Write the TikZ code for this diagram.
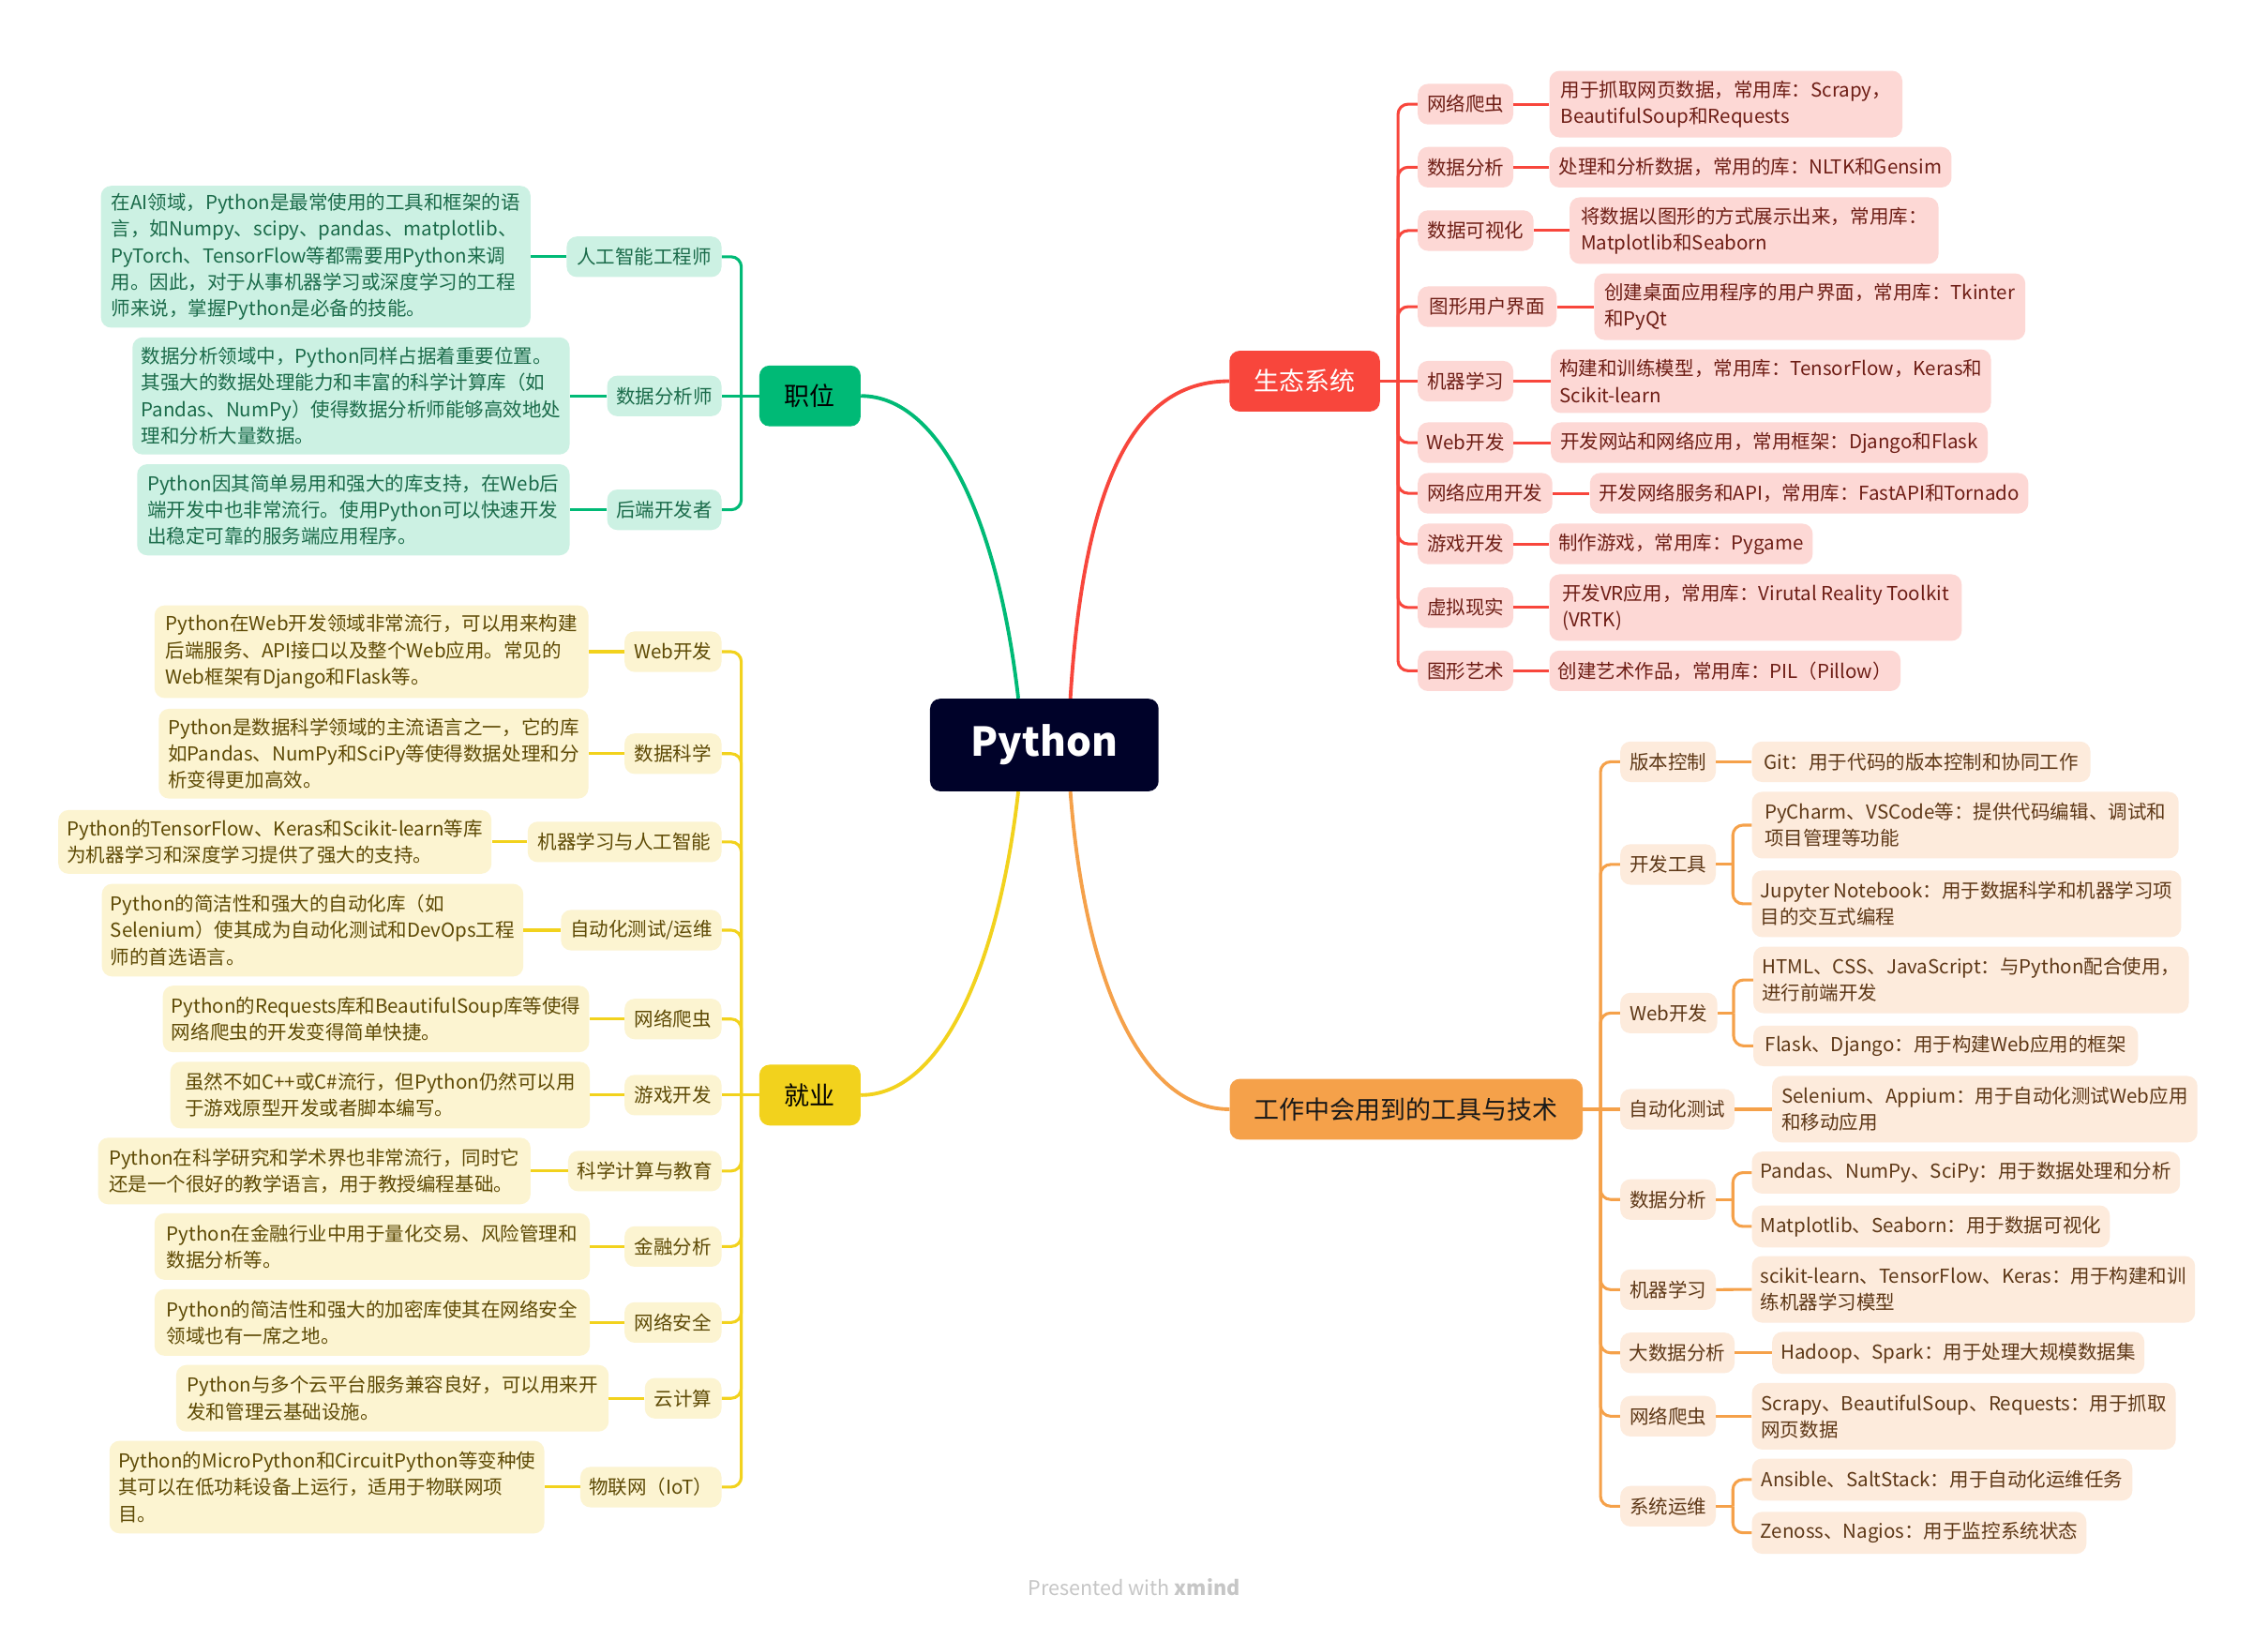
\documentclass[tikz,border=0pt]{standalone}
\usepackage{fontspec}
\setmainfont{Noto Sans CJK SC}
\usetikzlibrary{calc}
\definecolor{gmain}{HTML}{00BA76}
\definecolor{gfill}{HTML}{CCF1E3}
\definecolor{gtext}{HTML}{1B6B4A}
\definecolor{ymain}{HTML}{F2D21D}
\definecolor{yfill}{HTML}{FCF4D1}
\definecolor{ytext}{HTML}{5E4A05}
\definecolor{rmain}{HTML}{F8463C}
\definecolor{rfill}{HTML}{FDD8D5}
\definecolor{rtext}{HTML}{6E1E16}
\definecolor{omain}{HTML}{F5A14A}
\definecolor{ofill}{HTML}{FDEBDC}
\definecolor{otext}{HTML}{5E3817}
\definecolor{pyfill}{HTML}{000229}
\definecolor{foot}{HTML}{C6C6C6}
\tikzset{
  nb/.style={rounded corners=7pt, inner xsep=6pt, inner ysep=2pt, align=left, font=\fontsize{13.3}{18.3}\selectfont},
  gs/.style={nb, fill=gfill, text=gtext},
  ys/.style={nb, fill=yfill, text=ytext},
  rs/.style={nb, fill=rfill, text=rtext},
  os/.style={nb, fill=ofill, text=otext},
  mw/.style={minimum width=#1},
  mh/.style={minimum height=#1},
  mainb/.style={rounded corners=7pt, inner sep=0pt, minimum height=42, font=\fontsize{17.5}{20}\selectfont},
  gl/.style={draw=gmain, line width=2pt},
  yl/.style={draw=ymain, line width=2pt},
  rl/.style={draw=rmain, line width=2pt},
  ol/.style={draw=omain, line width=2pt},
  rc/.style={rounded corners=7pt},
  curve/.style={line width=2.5pt}
}
\begin{document}
\begin{tikzpicture}[x=1pt,y=-1pt]
\fill[white] (0,0) rectangle (1568,1123);
\useasboundingbox (0,0) rectangle (1568,1123);

% ---------- centre ----------
\node[fill=pyfill, text=white, rounded corners=7pt, minimum width=158, minimum height=64, inner sep=0pt, font=\fontsize{27.5}{30}\selectfont\bfseries] (py) at (722,515) {Python};

% ---------- main branches ----------
\node[mainb, fill=gmain, text=black, mw=70] (zw) at (560,273.7) {职位};
\node[mainb, fill=ymain, text=black, mw=70] (jy) at (560,757) {就业};
\node[mainb, fill=rmain, text=white, mw=104] (st) at (902,263.5) {生态系统};
\node[mainb, fill=omain, text=black!90, mw=244] (gz) at (972.2,766.8) {工作中会用到的工具与技术};

\draw[curve, draw=gmain] ([xshift=-18pt]py.north) .. controls (690,360) and (650,273.7) .. (zw.east);
\draw[curve, draw=rmain] ([xshift=18pt]py.north) .. controls (750,320) and (790,263.5) .. (st.west);
\draw[curve, draw=ymain] ([xshift=-18pt]py.south) .. controls (690,670.5) and (650,757) .. (jy.east);
\draw[curve, draw=omain] ([xshift=18pt]py.south) .. controls (750,680) and (790,766.8) .. (gz.west);

% ---------- 职位 ----------
\coordinate (gj) at (512.5,273.7);
\node[gs, anchor=east, mw=107, mh=28] (g1) at (499,177.5) {人工智能工程师};
\node[gs, anchor=east, mw=79, mh=28] (g2) at (499,273.7) {数据分析师};
\node[gs, anchor=east, mw=79, mh=28] (g3) at (499,352.4) {后端开发者};
\node[gs, anchor=east, mw=297, mh=98] (g1t) at (367,177.5) {在AI领域，Python是最常使用的工具和框架的语\\言，如Numpy、scipy、pandas、matplotlib、\\PyTorch、TensorFlow等都需要用Python来调\\用。因此，对于从事机器学习或深度学习的工程\\师来说，掌握Python是必备的技能。};
\node[gs, anchor=east, mw=301, mh=81] (g2t) at (394,273.7) {数据分析领域中，Python同样占据着重要位置。\\其强大的数据处理能力和丰富的科学计算库（如\\Pandas、NumPy）使得数据分析师能够高效地处\\理和分析大量数据。};
\node[gs, anchor=east, mw=299, mh=63] (g3t) at (394,352.4) {Python因其简单易用和强大的库支持，在Web后\\端开发中也非常流行。使用Python可以快速开发\\出稳定可靠的服务端应用程序。};
\draw[gl] (zw.west) -- (gj);
\draw[gl, rc] (gj) |- (g1.east);
\draw[gl] (gj) -- (g2.east);
\draw[gl, rc] (gj) |- (g3.east);
\draw[gl] (g1.west) -- (g1t.east);
\draw[gl] (g2.west) -- (g2t.east);
\draw[gl] (g3.west) -- (g3t.east);

% ---------- 就业 ----------
\coordinate (yj) at (512.5,757);
\node[ys, anchor=east, mw=67, mh=28] (y1) at (499,450.5) {Web开发};
\node[ys, anchor=east, mw=67, mh=28] (y2) at (499,521) {数据科学};
\node[ys, anchor=east, mw=134, mh=28] (y3) at (499,582) {机器学习与人工智能};
\node[ys, anchor=east, mw=111, mh=28] (y4) at (499,643) {自动化测试/运维};
\node[ys, anchor=east, mw=67, mh=28] (y5) at (499,704.4) {网络爬虫};
\node[ys, anchor=east, mw=67, mh=28] (y6) at (499,757) {游戏开发};
\node[ys, anchor=east, mw=106, mh=28] (y7) at (499,809.5) {科学计算与教育};
\node[ys, anchor=east, mw=67, mh=28] (y8) at (499,861.7) {金融分析};
\node[ys, anchor=east, mw=67, mh=28] (y9) at (499,914.2) {网络安全};
\node[ys, anchor=east, mw=53, mh=28] (y10) at (499,966.6) {云计算};
\node[ys, anchor=east, mw=97, mh=28] (y11) at (499,1028) {物联网（IoT）};

\node[ys, anchor=east, mw=300, mh=64] (y1t) at (407,450.5) {Python在Web开发领域非常流行，可以用来构建\\后端服务、API接口以及整个Web应用。常见的\\Web框架有Django和Flask等。};
\node[ys, anchor=east, mw=297, mh=62] (y2t) at (407,521) {Python是数据科学领域的主流语言之一，它的库\\如Pandas、NumPy和SciPy等使得数据处理和分\\析变得更加高效。};
\node[ys, anchor=east, mw=291, mh=44] (y3t) at (340,582) {Python的TensorFlow、Keras和Scikit-learn等库\\为机器学习和深度学习提供了强大的支持。};
\node[ys, anchor=east, mw=290, mh=64] (y4t) at (362,643) {Python的简洁性和强大的自动化库（如\\Selenium）使其成为自动化测试和DevOps工程\\师的首选语言。};
\node[ys, anchor=east, mw=290, mh=46] (y5t) at (407.5,704.4) {Python的Requests库和BeautifulSoup库等使得\\网络爬虫的开发变得简单快捷。};
\node[ys, anchor=east, mw=290, mh=46] (y6t) at (408,757) {虽然不如C++或C\#流行，但Python仍然可以用\\于游戏原型开发或者脚本编写。};
\node[ys, anchor=east, mw=299, mh=46] (y7t) at (367,809.5) {Python在科学研究和学术界也非常流行，同时它\\还是一个很好的教学语言，用于教授编程基础。};
\node[ys, anchor=east, mw=301, mh=46] (y8t) at (408,861.7) {Python在金融行业中用于量化交易、风险管理和\\数据分析等。};
\node[ys, anchor=east, mw=301, mh=46] (y9t) at (408,914.2) {Python的简洁性和强大的加密库使其在网络安全\\领域也有一席之地。};
\node[ys, anchor=east, mw=299, mh=46] (y10t) at (421,966.6) {Python与多个云平台服务兼容良好，可以用来开\\发和管理云基础设施。};
\node[ys, anchor=east, mw=295, mh=64] (y11t) at (376.5,1028) {Python的MicroPython和CircuitPython等变种使\\其可以在低功耗设备上运行，适用于物联网项\\目。};

\draw[yl] (jy.west) -- (yj);
\foreach \i in {1,2,3,4,5,7,8,9,10,11}{\draw[yl, rc] (yj) |- (y\i.east);}
\draw[yl] (yj) -- (y6.east);
\foreach \i in {1,...,11}{\draw[yl] (y\i.west) -- (y\i t.east);}

% ---------- 生态系统 ----------
\coordinate (rj) at (966.5,263.5);
\node[rs, anchor=west, mw=66, mh=28] (r1) at (980,72) {网络爬虫};
\node[rs, anchor=west, mw=66, mh=28] (r2) at (980,115.6) {数据分析};
\node[rs, anchor=west, mw=80, mh=28] (r3) at (980,159.4) {数据可视化};
\node[rs, anchor=west, mw=96, mh=28] (r4) at (980,212) {图形用户界面};
\node[rs, anchor=west, mw=66, mh=28] (r5) at (980,263.5) {机器学习};
\node[rs, anchor=west, mw=66, mh=28] (r6) at (980,306) {Web开发};
\node[rs, anchor=west, mw=93, mh=28] (r7) at (980,341) {网络应用开发};
\node[rs, anchor=west, mw=66, mh=28] (r8) at (980,376) {游戏开发};
\node[rs, anchor=west, mw=66, mh=28] (r9) at (980,420) {虚拟现实};
\node[rs, anchor=west, mw=66, mh=28] (r10) at (980,463.7) {图形艺术};

\node[rs, anchor=west, mw=244, mh=46] (r1t) at (1071,72) {用于抓取网页数据，常用库：Scrapy，\\BeautifulSoup和Requests};
\node[rs, anchor=west, mw=278, mh=28] (r2t) at (1071,115.6) {处理和分析数据，常用的库：NLTK和Gensim};
\node[rs, anchor=west, mw=255, mh=46] (r3t) at (1085,159.4) {将数据以图形的方式展示出来，常用库：\\Matplotlib和Seaborn};
\node[rs, anchor=west, mw=298, mh=46] (r4t) at (1102,212) {创建桌面应用程序的用户界面，常用库：Tkinter\\和PyQt};
\node[rs, anchor=west, mw=302, mh=44] (r5t) at (1072,263.5) {构建和训练模型，常用库：TensorFlow，Keras和\\Scikit-learn};
\node[rs, anchor=west, mw=302, mh=28] (r6t) at (1072,306) {开发网站和网络应用，常用框架：Django和Flask};
\node[rs, anchor=west, mw=302, mh=28] (r7t) at (1099,341) {开发网络服务和API，常用库：FastAPI和Tornado};
\node[rs, anchor=west, mw=182, mh=28] (r8t) at (1071,376) {制作游戏，常用库：Pygame};
\node[rs, anchor=west, mw=285, mh=46] (r9t) at (1071,420) {开发VR应用，常用库：Virutal Reality Toolkit\\(VRTK)};
\node[rs, anchor=west, mw=242, mh=28] (r10t) at (1071,463.7) {创建艺术作品，常用库：PIL（Pillow）};

\draw[rl] (st.east) -- (rj);
\foreach \i in {1,2,3,4,6,7,8,9,10}{\draw[rl, rc] (rj) |- (r\i.west);}
\draw[rl] (rj) -- (r5.west);
\foreach \i in {1,...,10}{\draw[rl] (r\i.east) -- (r\i t.west);}

% ---------- 工作中会用到的工具与技术 ----------
\coordinate (oj) at (1106.5,766.8);
\node[os, anchor=west, mw=66, mh=28] (o1) at (1120,526.6) {版本控制};
\node[os, anchor=west, mw=66, mh=28] (o2) at (1120,597.6) {开发工具};
\node[os, anchor=west, mw=67, mh=28] (o3) at (1120,700.3) {Web开发};
\node[os, anchor=west, mw=79, mh=28] (o4) at (1120,766.8) {自动化测试};
\node[os, anchor=west, mw=66, mh=28] (o5) at (1120,829.2) {数据分析};
\node[os, anchor=west, mw=66, mh=28] (o6) at (1120,891.5) {机器学习};
\node[os, anchor=west, mw=79, mh=28] (o7) at (1120,935.2) {大数据分析};
\node[os, anchor=west, mw=66, mh=28] (o8) at (1120,979) {网络爬虫};
\node[os, anchor=west, mw=66, mh=28] (o9) at (1120,1041.2) {系统运维};

\coordinate (o2j) at (1198,597.6);
\coordinate (o3j) at (1198.5,700.3);
\coordinate (o5j) at (1198,829.2);
\coordinate (o9j) at (1198,1041.2);

\node[os, anchor=west, mw=234, mh=28] (o1t) at (1211,526.6) {Git：用于代码的版本控制和协同工作};
\node[os, anchor=west, mw=295, mh=46] (o2a) at (1211,570.4) {PyCharm、VSCode等：提供代码编辑、调试和\\项目管理等功能};
\node[os, anchor=west, mw=296, mh=46] (o2b) at (1211,624.8) {Jupyter Notebook：用于数据科学和机器学习项\\目的交互式编程};
\node[os, anchor=west, mw=299, mh=46] (o3a) at (1212,677.4) {HTML、CSS、JavaScript：与Python配合使用，\\进行前端开发};
\node[os, anchor=west, mw=266, mh=28] (o3b) at (1212,723) {Flask、Django：用于构建Web应用的框架};
\node[os, anchor=west, mw=294, mh=46] (o4t) at (1225,766.8) {Selenium、Appium：用于自动化测试Web应用\\和移动应用};
\node[os, anchor=west, mw=295, mh=29] (o5a) at (1211,810.6) {Pandas、NumPy、SciPy：用于数据处理和分析};
\node[os, anchor=west, mw=247, mh=29] (o5b) at (1211,847.8) {Matplotlib、Seaborn：用于数据可视化};
\node[os, anchor=west, mw=302, mh=46] (o6t) at (1211,891.3) {scikit-learn、TensorFlow、Keras：用于构建和训\\练机器学习模型};
\node[os, anchor=west, mw=257, mh=29] (o7t) at (1225,935.2) {Hadoop、Spark：用于处理大规模数据集};
\node[os, anchor=west, mw=293, mh=46] (o8t) at (1211,979) {Scrapy、BeautifulSoup、Requests：用于抓取\\网页数据};
\node[os, anchor=west, mw=263, mh=29] (o9a) at (1211,1022.8) {Ansible、SaltStack：用于自动化运维任务};
\node[os, anchor=west, mw=231, mh=29] (o9b) at (1211,1059.6) {Zenoss、Nagios：用于监控系统状态};

\draw[ol] (gz.east) -- (oj);
\foreach \i in {1,2,3,5,6,7,8,9}{\draw[ol, rc] (oj) |- (o\i.west);}
\draw[ol] (oj) -- (o4.west);
\draw[ol] (o1.east) -- (o1t.west);
\draw[ol] (o2.east) -- (o2j);
\draw[ol, rc] (o2j) |- (o2a.west);
\draw[ol, rc] (o2j) |- (o2b.west);
\draw[ol] (o3.east) -- (o3j);
\draw[ol, rc] (o3j) |- (o3a.west);
\draw[ol, rc] (o3j) |- (o3b.west);
\draw[ol] (o4.east) -- (o4t.west);
\draw[ol] (o5.east) -- (o5j);
\draw[ol, rc] (o5j) |- (o5a.west);
\draw[ol, rc] (o5j) |- (o5b.west);
\draw[ol] (o6.east) -- (o6t.west);
\draw[ol] (o7.east) -- (o7t.west);
\draw[ol] (o8.east) -- (o8t.west);
\draw[ol] (o9.east) -- (o9j);
\draw[ol, rc] (o9j) |- (o9a.west);
\draw[ol, rc] (o9j) |- (o9b.west);

% ---------- footer ----------
\node[text=foot, font=\fontsize{14}{16}\selectfont, inner sep=0pt] (ft) at (784,1097) {Presented with \textbf{xmind}};
\end{tikzpicture}
\end{document}
